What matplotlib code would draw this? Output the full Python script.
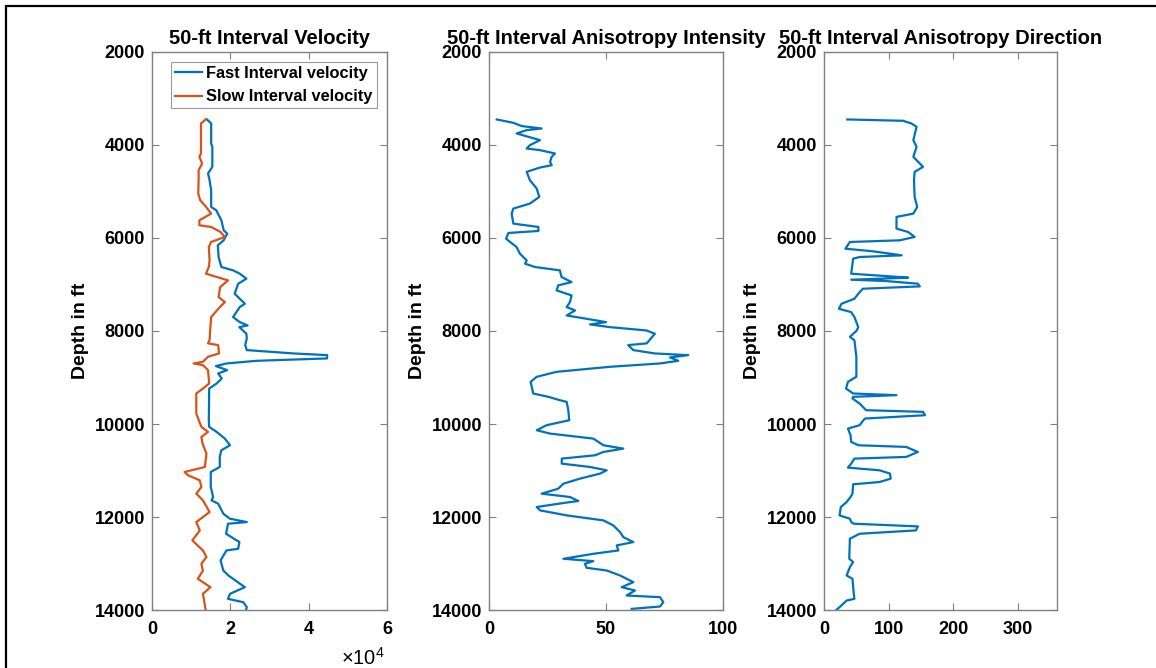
"""
50-ft interval logs: velocity, anisotropy intensity, anisotropy direction
"""

import matplotlib
matplotlib.use('Agg')
import matplotlib.pyplot as plt
from matplotlib.patches import Rectangle
from matplotlib.ticker import ScalarFormatter

plt.rcParams['font.family'] = ['Liberation Sans', 'DejaVu Sans']
plt.rcParams['font.weight'] = 'bold'
plt.rcParams['mathtext.fontset'] = 'custom'
plt.rcParams['mathtext.rm'] = 'Liberation Sans:weight=normal'
plt.rcParams['mathtext.it'] = 'Liberation Sans:italic:weight=normal'
plt.rcParams['mathtext.bf'] = 'Liberation Sans:bold'

# ---- data (depth in ft) ----
fast_depth = [3450, 3536, 3967, 4040, 4470, 4613, 4757, 4973, 5332, 5403, 5619, 5834, 5906,
              6050, 6157, 6409, 6624, 6696, 6767, 6875, 6983, 7198, 7306, 7413, 7486, 7701,
              7809, 7880, 7917, 8060, 8160, 8303, 8411, 8483, 8519, 8590, 8641, 8698, 8755,
              8842, 8913, 9021, 9129, 9237, 9919, 10062, 10170, 10314, 10457, 10565, 10708,
              10924, 11032, 11355, 11570, 11642, 11714, 11929, 12037, 12109, 12145, 12360,
              12539, 12683, 12719, 12934, 13150, 13257, 13509, 13652, 13760, 13832, 13939, 14000]
fast_vel = [14000, 15100, 15100, 15400, 15400, 14300, 14700, 15100, 15100, 16400, 17700, 18300,
            19200, 18300, 16800, 17000, 17700, 20700, 22400, 24100, 22000, 21100, 22400, 23700,
            22400, 20700, 22400, 24400, 22300, 24100, 24200, 23800, 24200, 36200, 44700, 44700,
            26700, 19000, 16300, 19200, 16900, 17800, 16500, 14600, 14500, 14600, 16500, 18600,
            19900, 17700, 17300, 17300, 15000, 15000, 15600, 15200, 16900, 18200, 19900, 24200,
            19400, 18900, 22300, 22000, 19000, 17500, 18200, 19500, 23700, 19900, 19400, 23300,
            24200, 24000]

slow_depth = [3450, 3537, 4183, 4255, 4399, 4542, 4758, 5045, 5188, 5332, 5476, 5619, 5727,
              5763, 5871, 5978, 6086, 6194, 6481, 6624, 6768, 6912, 7055, 7271, 7378, 7486,
              7701, 7917, 8195, 8267, 8303, 8483, 8554, 8662, 8698, 8734, 8842, 9129, 9237,
              9344, 9775, 10062, 10170, 10278, 10421, 10637, 10924, 11032, 11103, 11211, 11355,
              11498, 11642, 11893, 12109, 12288, 12503, 12719, 12862, 13006, 13150, 13329,
              13509, 13652, 14000]
slow_vel = [13700, 12500, 12500, 12100, 12800, 11900, 11900, 11800, 12300, 13800, 15100, 12100,
            12100, 15100, 17500, 18600, 15100, 14500, 14700, 14500, 13800, 19400, 17400, 17000,
            18600, 17300, 15100, 14900, 14700, 14300, 16900, 17100, 14300, 13000, 10600, 13000,
            14300, 14600, 13000, 11300, 11300, 12600, 14300, 12600, 12900, 13900, 13500, 8300,
            9200, 12200, 12600, 11300, 13000, 14700, 11300, 12200, 10300, 13000, 13900, 12600,
            13000, 11700, 14900, 13000, 13700]

int_depth = [3451, 3523, 3594, 3645, 3681, 3752, 3824, 3896, 4004, 4076, 4111, 4183, 4255,
             4363, 4435, 4485, 4578, 4758, 4937, 5117, 5260, 5368, 5476, 5691, 5763, 5849,
             5892, 6014, 6086, 6194, 6337, 6481, 6553, 6624, 6696, 6840, 6948, 7019, 7127,
             7235, 7378, 7486, 7558, 7666, 7737, 7809, 7859, 7917, 7989, 8060, 8267, 8303,
             8411, 8483, 8519, 8569, 8641, 8698, 8770, 8878, 8985, 9093, 9344, 9416, 9488,
             9524, 9703, 9919, 10026, 10134, 10206, 10314, 10457, 10529, 10601, 10673, 10744,
             10852, 10924, 10996, 11067, 11175, 11283, 11391, 11498, 11570, 11656, 11699,
             11785, 11857, 11965, 12073, 12180, 12324, 12432, 12539, 12611, 12719, 12791,
             12898, 12949, 13006, 13092, 13150, 13257, 13401, 13509, 13580, 13688, 13724,
             13832, 13925, 13975]
int_val = [3.3, 10.4, 14.0, 22.5, 16.1, 11.8, 16.8, 21.8, 17.5, 16.1, 21.8, 28.2, 26.8, 26.1,
           26.8, 21.8, 16.1, 17.5, 20.4, 21.5, 17.5, 10.4, 9.7, 10.4, 21.1, 21.1, 8.3, 7.3, 9.0,
           11.8, 13.2, 16.1, 15.4, 19.7, 30.3, 31.0, 35.3, 29.6, 28.9, 35.3, 34.6, 33.2, 36.8,
           33.2, 41.7, 50.0, 43.2, 51.7, 67.4, 70.9, 67.4, 59.5, 61.7, 70.9, 85.2, 77.4, 80.9,
           73.1, 51.7, 28.9, 20.4, 17.8, 18.9, 25.4, 30.3, 33.2, 33.9, 34.3, 24.6, 20.4, 26.1,
           44.6, 48.9, 57.4, 48.9, 45.3, 31.1, 31.1, 43.2, 50.3, 47.4, 38.9, 31.8, 29.6, 22.5,
           34.6, 38.2, 31.8, 20.4, 21.8, 33.2, 48.9, 53.1, 56.0, 57.4, 61.7, 54.6, 55.3, 44.6,
           31.8, 44.6, 41.0, 41.7, 50.3, 56.0, 61.7, 56.7, 62.4, 58.8, 73.1, 74.5, 73.1, 61.0]

dir_depth = [3451, 3480, 3537, 3609, 3896, 4040, 4255, 4470, 4578, 4758, 5117, 5332, 5476,
             5547, 5799, 5871, 5978, 6050, 6086, 6230, 6287, 6373, 6409, 6445, 6768, 6825,
             6854, 6897, 6926, 6983, 7041, 7091, 7199, 7307, 7414, 7522, 7594, 7701, 7917,
             8000, 8124, 8200, 8554, 8985, 9093, 9237, 9344, 9380, 9416, 9452, 9560, 9703,
             9739, 9811, 9883, 10026, 10098, 10242, 10385, 10457, 10493, 10601, 10708, 10744,
             10852, 10938, 10996, 11067, 11175, 11247, 11297, 11498, 11570, 11678, 11785,
             11965, 12037, 12109, 12144, 12202, 12288, 12360, 12467, 12898, 12970, 13078,
             13257, 13329, 13652, 13760, 13796, 13939, 14000]
dir_val = [36, 122, 135, 143, 138, 143, 138, 153, 140, 139, 140, 144, 138, 112, 112, 130, 140,
           117, 40, 33, 76, 120, 55, 45, 42, 102, 130, 42, 96, 145, 148, 60, 53, 47, 27, 23, 42,
           47, 53, 50, 40, 47, 50, 50, 37, 34, 45, 112, 45, 44, 55, 65, 153, 156, 63, 55, 37, 41,
           42, 53, 127, 145, 127, 47, 42, 37, 86, 102, 103, 86, 45, 44, 41, 35, 26, 24, 40, 42,
           46, 145, 142, 55, 40, 39, 45, 40, 35, 44, 46, 47, 35, 24, 19]

blue = '#0072BD'
orange = '#D95319'
grey = '#808080'

fig = plt.figure(figsize=(11.56, 6.68), dpi=100)

# axes boxes (figure fractions)
lefts = [0.1315, 0.4230, 0.7128]
widths = [0.2033, 0.2024, 0.2016]
bottom, height = 0.0868, 0.8354

titles = ['50-ft Interval Velocity', '50-ft Interval Anisotropy Intensity',
          '50-ft Interval Anisotropy Direction']
xlims = [(0, 60000), (0, 100), (0, 360)]
xticks = [[0, 20000, 40000, 60000], [0, 50, 100], [0, 100, 200, 300]]

axes = []
for i in range(3):
    ax = fig.add_axes([lefts[i], bottom, widths[i], height])
    ax.set_ylim(14000, 2000)
    ax.set_xlim(*xlims[i])
    ax.set_xticks(xticks[i])
    ax.set_yticks(range(2000, 14001, 2000))
    ax.tick_params(direction='in', top=True, right=True, length=5, width=0.8,
                   color=grey, labelsize=13)
    ax.tick_params(axis='x', pad=8)
    ax.tick_params(axis='y', pad=5)
    for lab in ax.get_xticklabels() + ax.get_yticklabels():
        lab.set_fontweight('bold')
    for sp in ax.spines.values():
        sp.set_color(grey)
        sp.set_linewidth(1.0)
    ax.set_title(titles[i], fontsize=14.5, fontweight='bold', pad=6)
    ax.set_ylabel('Depth in ft', fontsize=14, fontweight='bold', labelpad=4)
    axes.append(ax)

ax1, ax2, ax3 = axes
ax1.plot(fast_vel, fast_depth, color=blue, lw=1.6, label='Fast Interval velocity')
ax1.plot(slow_vel, slow_depth, color=orange, lw=1.6, label='Slow Interval velocity')
fmt = ScalarFormatter()
fmt.set_powerlimits((0, 0))
ax1.xaxis.set_major_formatter(fmt)
ax1.xaxis.get_offset_text().set_visible(False)
ax1.text(0.991, -0.0986, r'$\times\mathrm{10^{4}}$', transform=ax1.transAxes,
         ha='right', va='baseline', fontsize=14.5, fontweight='normal')

leg = ax1.legend(loc='upper left', bbox_to_anchor=(0.081, 0.982), borderaxespad=0,
                 fontsize=11.8, frameon=True, fancybox=False, handlelength=1.65,
                 borderpad=0.25, labelspacing=0.5, handletextpad=0.25)
leg.get_frame().set_edgecolor(grey)
leg.get_frame().set_linewidth(0.8)
for t in leg.get_texts():
    t.set_fontweight('bold')

ax2.plot(int_val, int_depth, color=blue, lw=1.6)
ax3.plot(dir_val, dir_depth, color=blue, lw=1.6)

# outer border (cut off on the right and bottom like the source)
fig.add_artist(Rectangle((6 / 1156, -1), 2, 1 + 1 - 6 / 668, transform=fig.transFigure,
                         fill=False, edgecolor='black', lw=1.6))

fig.savefig('out.png', dpi=100)
